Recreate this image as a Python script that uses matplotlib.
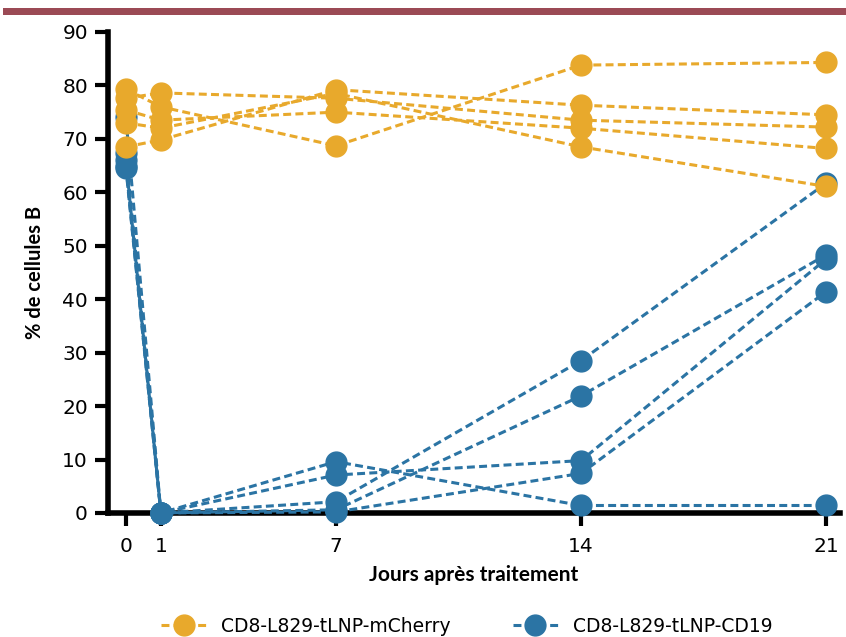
import numpy as np
import matplotlib
matplotlib.use('Agg')
import matplotlib.pyplot as plt
from matplotlib.lines import Line2D

# days after treatment
days = [0, 1, 7, 14, 21]

# % B cells, one list per mouse
mcherry = [
    [79.3, 76.0, 68.7, 83.8, 84.3],
    [68.5, 69.8, 79.2, 76.3, 74.5],
    [77.6, 78.6, 77.6, 73.5, 72.2],
    [75.4, 73.5, 75.0, 72.0, 68.2],
    [73.0, 72.0, 78.5, 68.5, 61.1],
]
cd19 = [
    [74.0, 0.0, 9.6, 1.4, 1.4],
    [67.4, 0.0, 7.1, 9.8, 47.5],
    [64.6, 0.0, 2.1, 28.5, 61.7],
    [66.0, 0.0, 0.6, 21.9, 48.3],
    [65.0, 0.0, 0.2, 7.4, 41.4],
]
labels = ['CD8-L829-tLNP-mCherry', 'CD8-L829-tLNP-CD19']
yellow = '#E8A92C'
blue = '#2B74A4'

narrow = ['DejaVu Sans']
bold = ['Lato', 'DejaVu Sans']

# the x axis of the original is squeezed between day 1 and day 7
def fwd(x):
    x = np.asarray(x, dtype=float)
    return np.where(x <= 1, x, x - 1)

def inv(p):
    p = np.asarray(p, dtype=float)
    return np.where(p <= 1, p, p + 1)

fig = plt.figure(figsize=(8.46, 6.37), dpi=100)
ax = fig.add_axes([0.1277, 0.1947, 0.8653, 0.7551])
ax.set_xscale('function', functions=(fwd, inv))

dash = (0, (2.6, 1.4))
for m in cd19:
    ax.plot(days, m, color=blue, ls=dash, lw=2.2, marker='o', ms=15,
            clip_on=False, zorder=3)
for m in mcherry:
    ax.plot(days, m, color=yellow, ls=dash, lw=2.2, marker='o', ms=15,
            clip_on=False, zorder=4)

ax.set_ylim(0, 90)
ax.set_xlim(-0.51, 21.4)
ax.set_yticks(np.arange(0, 91, 10))
ax.set_xticks(days)
ax.set_xticklabels([str(d) for d in days])
for s in ['top', 'right']:
    ax.spines[s].set_visible(False)
for s in ['left', 'bottom']:
    ax.spines[s].set_linewidth(4)
ax.tick_params(width=3, length=9.5, labelsize=14.5, colors='black')
ax.tick_params(axis='x', pad=8)
ax.tick_params(axis='y', pad=5)
for t in ax.get_xticklabels() + ax.get_yticklabels():
    t.set_family(narrow)

ax.set_ylabel('% de cellules B', fontsize=14.5, fontweight='bold',
              family=bold, labelpad=12)
ax.set_xlabel('Jours après traitement', fontsize=15, fontweight='bold',
              family=bold, labelpad=6)

handles = [Line2D([], [], color=c, ls=dash, lw=2.2, marker='o', ms=15)
           for c in [yellow, blue]]
fig.legend(handles, labels, loc='center', bbox_to_anchor=(0.552, 0.017), ncol=2,
           frameon=False, handlelength=2.4, handletextpad=0.8, columnspacing=3.3,
           prop={'family': narrow, 'size': 13.5})

# decorative band at the top
fig.add_artist(plt.Rectangle((0.003, 0.977), 0.997, 0.01, transform=fig.transFigure,
                             color='#9B4A55', lw=0))

fig.savefig('out.png', dpi=100)
